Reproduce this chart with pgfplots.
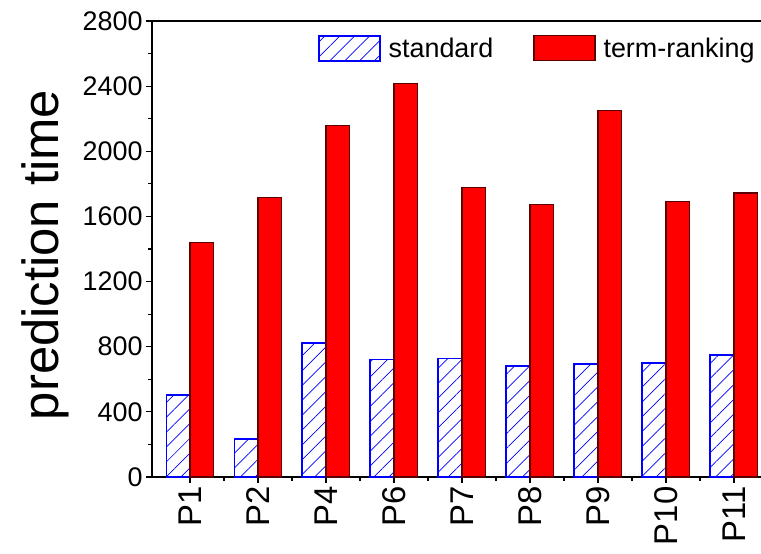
\documentclass[border=0pt]{standalone}
\usepackage{fontspec}
\setmainfont{Liberation Sans}
\usepackage{pgfplots}
\pgfplotsset{compat=1.18}
\usetikzlibrary{patterns.meta}
\definecolor{edgered}{RGB}{90,0,0}
\begin{document}
\begin{tikzpicture}
\begin{axis}[
  scale only axis, width=620bp, height=456bp,
  at={(0,0)}, anchor=south west,
  xmin=-0.56, xmax=8.56, ymin=0, ymax=2800,
  xtick={0,...,8}, xticklabels={P1,P2,P4,P6,P7,P8,P9,P10,P11},
  ytick={0,400,...,2800},
  minor x tick num=1, minor y tick num=1,
  tick align=outside, xtick pos=left, ytick pos=left,
  major tick length=6bp, minor tick length=3.5bp,
  major tick style={line width=1.2bp, black},
  minor tick style={line width=1.2bp, black},
  axis line style={line width=1.5bp},
  /pgf/number format/assume math mode=true,
  /pgf/number format/1000 sep={},
  yticklabel style={font=\fontsize{27}{32}\selectfont},
  xticklabel style={font=\fontsize{33}{40}\selectfont, rotate=90, anchor=east},
  ylabel={prediction time},
  ylabel style={font=\fontsize{51}{60}\selectfont, at={(axis description cs:-0.1726,0.487)}, anchor=center, rotate=0},
  legend columns=2,
  legend style={at={(rel axis cs:0.2677,0.940)}, anchor=west, draw=none, fill=none,
    font=\fontsize{27}{32}\selectfont, inner sep=0pt, nodes={inner sep=0pt},
    /tikz/every odd column/.style={column sep=8bp},
    /tikz/every even column/.style={column sep=40bp}},
  legend image code/.code={\draw[#1] (0bp,-12bp) rectangle (61bp,13bp);},
]
\addplot[ybar, bar width=0.35, bar shift=-0.175, draw=blue, line width=1.5bp,
  pattern={Lines[angle=45,distance=10.5bp,line width=0.7bp]}, pattern color=blue]
  coordinates {(0,503) (1,234) (2,823) (3,722) (4,728) (5,681) (6,693) (7,701) (8,749)};
\addlegendentry{standard}
\addplot[ybar, bar width=0.35, bar shift=0.175, fill=red, draw=edgered, line width=1.2bp]
  coordinates {(0,1440) (1,1715) (2,2156) (3,2418) (4,1778) (5,1674) (6,2252) (7,1690) (8,1744)};
\addlegendentry{term-ranking}
\end{axis}
\pgfresetboundingbox
\path[use as bounding box] (-152bp,-77bp) rectangle (609bp,477bp);
\end{tikzpicture}
\end{document}
